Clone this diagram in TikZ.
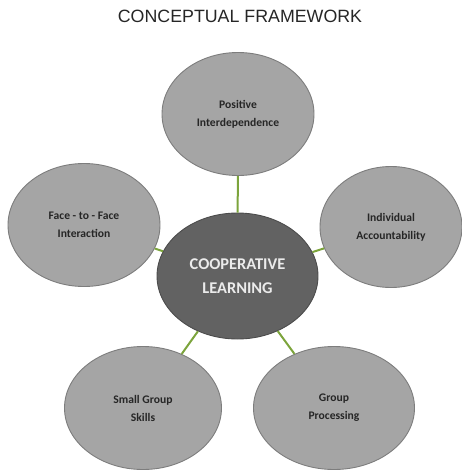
\documentclass[tikz,border=0pt]{standalone}
\usepackage{fontspec}
\setmainfont{Liberation Sans}
\newfontfamily\bubblefont{Carlito}
\usetikzlibrary{shapes.geometric}

\definecolor{linkgreen}{RGB}{124,164,60}
\definecolor{bubblegray}{RGB}{165,165,165}
\definecolor{coregray}{RGB}{98,98,98}
\definecolor{rimgray}{RGB}{125,125,125}

\tikzset{
	bubble/.style={ellipse, inner sep=0pt, fill=bubblegray, draw=rimgray, line width=0.9pt,
		minimum width=152pt, minimum height=123pt, align=center,
		font=\bubblefont\bfseries\fontsize{11.6}{18}\selectfont, text=black!85},
	core/.style={bubble, fill=coregray, draw=black!70, minimum width=161pt, minimum height=126pt,
		font=\bubblefont\bfseries\fontsize{16.4}{24}\selectfont, text=white!92!black},
	link/.style={linkgreen, line width=2pt}
}

\begin{document}
\begin{tikzpicture}[x=1pt, y=-1pt]
	\useasboundingbox (0,0) rectangle (461,471);

	\node[font=\fontsize{17.8}{20}\selectfont, text=black!85] (title) at (240,16) {CONCEPTUAL FRAMEWORK};

	\node[core] (cl) at (237.5,276) {COOPERATIVE\\LEARNING};

	\node[bubble] (pi) at (238,114) {Positive\\Interdependence};
	\node[bubble] (ff) at (84,225) {Face - to - Face\\Interaction};
	\node[bubble, minimum width=142pt, minimum height=121pt] (ia) at (391,227) {Individual\\Accountability};
	\node[bubble, minimum width=157pt] (sg) at (143,408) {Small Group\\Skills};
	\node[bubble, minimum width=161pt] (gp) at (334,408) {Group\\Processing};

	% green links between the bubbles
	\foreach \b in {pi, ff, ia, sg, gp}
		\draw[link] (cl) -- (\b);
\end{tikzpicture}
\end{document}
